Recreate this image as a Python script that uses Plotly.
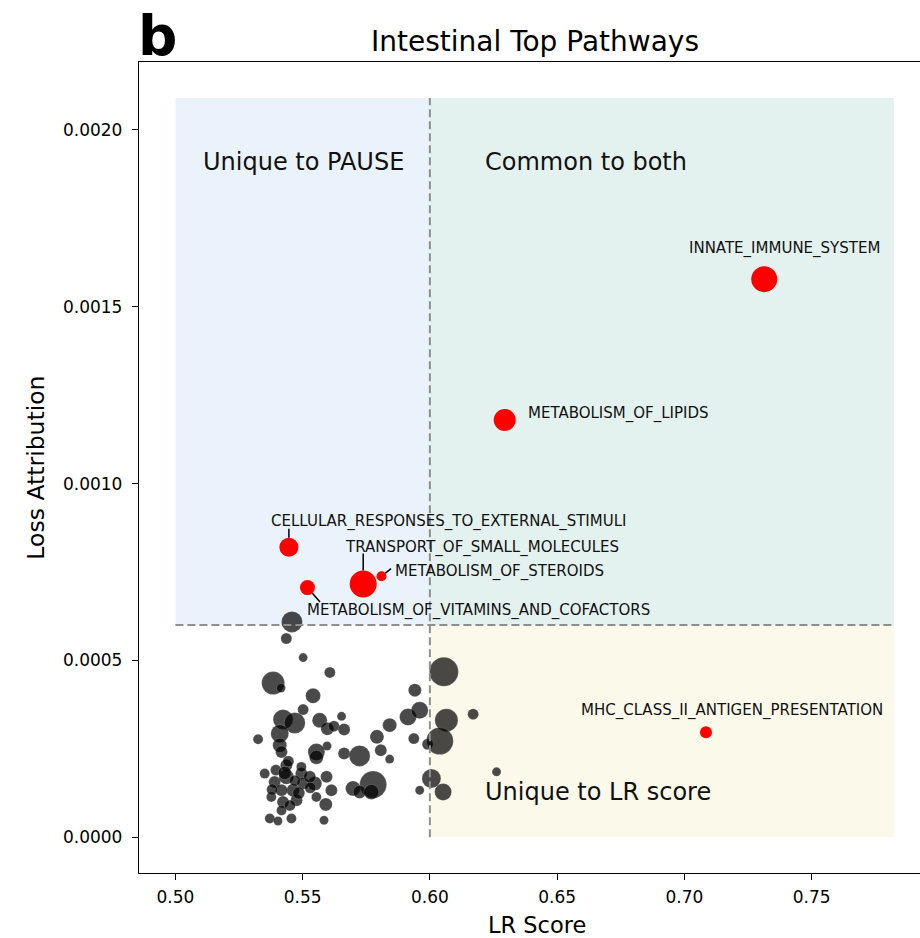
import plotly.graph_objects as go

# ---------------- data ----------------
# background (non-highlighted) pathways: LR score, loss attribution, marker area (size encoding)
bg_lr = [0.5458, 0.5436, 0.5502, 0.5607, 0.5384, 0.5415, 0.5541, 0.5502, 0.5423, 0.5469,
         0.5410, 0.5567, 0.5597, 0.5623, 0.5653, 0.5663, 0.5325, 0.5410, 0.5596, 0.5554,
         0.5554, 0.5417, 0.5663, 0.5724, 0.5792, 0.5842, 0.5807, 0.5842, 0.5941, 0.5914,
         0.5960, 0.5937, 0.5991, 0.6055, 0.6065, 0.6039, 0.6170, 0.6006, 0.6052, 0.5960,
         0.5777, 0.5698, 0.5724, 0.5770, 0.5591, 0.5584, 0.6262, 0.5351, 0.5390, 0.5436,
         0.5436, 0.5495, 0.5502, 0.5462, 0.5417, 0.5377, 0.5423, 0.5476, 0.5417, 0.5456,
         0.5371, 0.5403, 0.5548, 0.5594, 0.5613, 0.5554, 0.5495, 0.5528, 0.5444, 0.5470,
         0.5395, 0.5450, 0.5530, 0.5380, 0.5430, 0.5485]
bg_loss = [0.000609, 0.000562, 0.000508, 0.000466, 0.000436, 0.000422, 0.000400, 0.000361, 0.000333, 0.000323,
           0.000293, 0.000331, 0.000307, 0.000314, 0.000342, 0.000305, 0.000277, 0.000260, 0.000258, 0.000241,
           0.000226, 0.000241, 0.000237, 0.000230, 0.000284, 0.000317, 0.000246, 0.000221, 0.000416, 0.000340,
           0.000359, 0.000279, 0.000263, 0.000468, 0.000331, 0.000272, 0.000348, 0.000166, 0.000128, 0.000133,
           0.000149, 0.000138, 0.000128, 0.000128, 0.000093, 0.000048, 0.000185, 0.000180, 0.000156, 0.000204,
           0.000171, 0.000180, 0.000152, 0.000133, 0.000133, 0.000114, 0.000100, 0.000105, 0.000076, 0.000053,
           0.000053, 0.000046, 0.000152, 0.000171, 0.000133, 0.000114, 0.000199, 0.000171, 0.000215, 0.000160,
           0.000190, 0.000090, 0.000140, 0.000135, 0.000182, 0.000125]
bg_area = [441, 121, 81, 121, 529, 81, 225, 121, 400, 441,
           324, 225, 169, 121, 81, 144, 100, 196, 81, 289,
           196, 144, 144, 441, 196, 196, 144, 81, 169, 289,
           289, 121, 121, 841, 529, 729, 121, 361, 289, 81,
           729, 225, 169, 225, 169, 81, 81, 100, 144, 144,
           225, 144, 144, 169, 144, 100, 144, 144, 100, 100,
           100, 81, 196, 144, 144, 100, 100, 144, 121, 121,
           121, 121, 121, 121, 169, 144]

top_names = ["INNATE_IMMUNE_SYSTEM", "METABOLISM_OF_LIPIDS", "CELLULAR_RESPONSES_TO_EXTERNAL_STIMULI",
             "TRANSPORT_OF_SMALL_MOLECULES", "METABOLISM_OF_STEROIDS",
             "METABOLISM_OF_VITAMINS_AND_COFACTORS", "MHC_CLASS_II_ANTIGEN_PRESENTATION"]
top_lr = [0.7314, 0.6294, 0.5446, 0.5738, 0.5810, 0.5519, 0.7085]
top_loss = [0.001578, 0.001180, 0.000820, 0.000716, 0.000738, 0.000706, 0.000297]
top_area = [676, 484, 361, 729, 100, 225, 144]

lr_threshold = 0.60
loss_threshold = 0.0006
region_x = [0.50, 0.7823]
region_y = [0.0, 0.00209]

x_ticks = [0.50, 0.55, 0.60, 0.65, 0.70, 0.75]
y_ticks = [0.0000, 0.0005, 0.0010, 0.0015, 0.0020]

# label placement (pixel offsets from point) and leader lines
label_style = {
    "INNATE_IMMUNE_SYSTEM": dict(dx=20, dy=-31, anchor="center", line=None),
    "METABOLISM_OF_LIPIDS": dict(dx=21, dy=-6, anchor="left", line=None),
    "CELLULAR_RESPONSES_TO_EXTERNAL_STIMULI": dict(dx=160, dy=-26, anchor="center", line=(0, -19)),
    "TRANSPORT_OF_SMALL_MOLECULES": dict(dx=119, dy=-37, anchor="center", line=(0, -31)),
    "METABOLISM_OF_STEROIDS": dict(dx=11, dy=-5, anchor="left", line=(10, -8)),
    "METABOLISM_OF_VITAMINS_AND_COFACTORS": dict(dx=-2, dy=23, anchor="left", line=(13, 15)),
    "MHC_CLASS_II_ANTIGEN_PRESENTATION": dict(dx=26, dy=-22, anchor="center", line=None),
}

FONT = "DejaVu Sans"

fig = go.Figure()

fig.add_trace(go.Scatter(
    x=bg_lr, y=bg_loss, mode="markers",
    marker=dict(size=[a ** 0.5 for a in bg_area], sizemode="diameter", opacity=1,
                color="rgba(0,0,0,0.71)", line=dict(color="rgba(255,255,255,0.35)", width=0.5)),
    hoverinfo="skip", showlegend=False))

fig.add_trace(go.Scatter(
    x=top_lr, y=top_loss, mode="markers", text=top_names,
    marker=dict(size=[a ** 0.5 for a in top_area], sizemode="diameter", opacity=1,
                color="rgb(255,0,0)", line=dict(width=0)),
    showlegend=False))

shapes = [
    dict(type="rect", xref="x", yref="y", x0=region_x[0], x1=lr_threshold, y0=loss_threshold, y1=region_y[1],
         fillcolor="#eaf3fb", line=dict(width=0), layer="below"),
    dict(type="rect", xref="x", yref="y", x0=lr_threshold, x1=region_x[1], y0=loss_threshold, y1=region_y[1],
         fillcolor="#e3f2ef", line=dict(width=0), layer="below"),
    dict(type="rect", xref="x", yref="y", x0=lr_threshold, x1=region_x[1], y0=region_y[0], y1=loss_threshold,
         fillcolor="#fbf9e9", line=dict(width=0), layer="below"),
    dict(type="line", xref="x", yref="y", x0=lr_threshold, x1=lr_threshold, y0=region_y[0], y1=region_y[1],
         line=dict(color="#8f8f8f", width=2, dash="8px,4px"), layer="above"),
    dict(type="line", xref="x", yref="y", x0=region_x[0], x1=region_x[1], y0=loss_threshold, y1=loss_threshold,
         line=dict(color="#8f8f8f", width=2, dash="8px,4px"), layer="above"),
]

annotations = []
for name, lx, ly, area in zip(top_names, top_lr, top_loss, top_area):
    st = label_style[name]
    r = area ** 0.5 / 2
    if st["line"] is not None:
        annotations.append(dict(x=lx, y=ly, xref="x", yref="y", text="", showarrow=True,
                                arrowhead=0, arrowwidth=1.5, arrowcolor="black",
                                ax=st["line"][0], ay=st["line"][1], standoff=r, startstandoff=0,
                                borderpad=0))
    annotations.append(dict(x=lx, y=ly, xref="x", yref="y", text=name, showarrow=False,
                            xshift=st["dx"], yshift=-st["dy"], xanchor=st["anchor"], yanchor="middle",
                            font=dict(family=FONT, size=15, color="#111111")))

region_labels = [("Unique to PAUSE", 0.510, 0.00191), ("Common to both", 0.621, 0.00191),
                 ("Unique to LR score", 0.621, 0.000127)]
for t, tx, ty in region_labels:
    annotations.append(dict(x=tx, y=ty, xref="x", yref="y", text=t, showarrow=False,
                            xanchor="left", yanchor="middle",
                            font=dict(family=FONT, size=24, color="#111111")))

# title, panel letter, axis titles
annotations += [
    dict(x=0.507, y=1.0247, xref="paper", yref="paper", text="Intestinal Top Pathways", showarrow=False,
         xanchor="center", yanchor="middle", font=dict(family=FONT, size=28, color="black")),
    dict(x=-0.004, y=1.032, xref="paper", yref="paper", text="<b>b</b>", showarrow=False,
         xanchor="left", yanchor="middle", font=dict(family=FONT, size=55, color="black")),
    dict(x=0.510, y=-0.0645, xref="paper", yref="paper", text="LR Score", showarrow=False,
         xanchor="center", yanchor="middle", font=dict(family=FONT, size=22.5, color="black")),
    dict(x=-0.133, y=0.50, xref="paper", yref="paper", text="Loss Attribution", showarrow=False,
         textangle=-90, xanchor="center", yanchor="middle", font=dict(family=FONT, size=23.5, color="black")),
]

fig.update_layout(
    width=920, height=938,
    margin=dict(l=139, r=0, t=62, b=65, pad=0),
    paper_bgcolor="white", plot_bgcolor="white",
    shapes=shapes, annotations=annotations,
    font=dict(family=FONT, color="black"),
    xaxis=dict(range=[0.4857, 0.7926], tickvals=x_ticks, ticktext=[f"{v:.2f}" for v in x_ticks],
               showgrid=False, zeroline=False, showline=True, linecolor="black", linewidth=1.3,
               mirror=True, ticks="outside", ticklen=6, tickwidth=1.2, tickcolor="black",
               tickfont=dict(family=FONT, size=17, color="black"), ticklabelstandoff=2),
    yaxis=dict(range=[-0.000101, 0.002192], tickvals=y_ticks, ticktext=[f"{v:.4f}" for v in y_ticks],
               showgrid=False, zeroline=False, showline=True, linecolor="black", linewidth=1.3,
               mirror=False, ticks="outside", ticklen=6, tickwidth=1.2, tickcolor="black",
               tickfont=dict(family=FONT, size=17, color="black"), ticklabelstandoff=6),
)

fig.write_html("out.html")
